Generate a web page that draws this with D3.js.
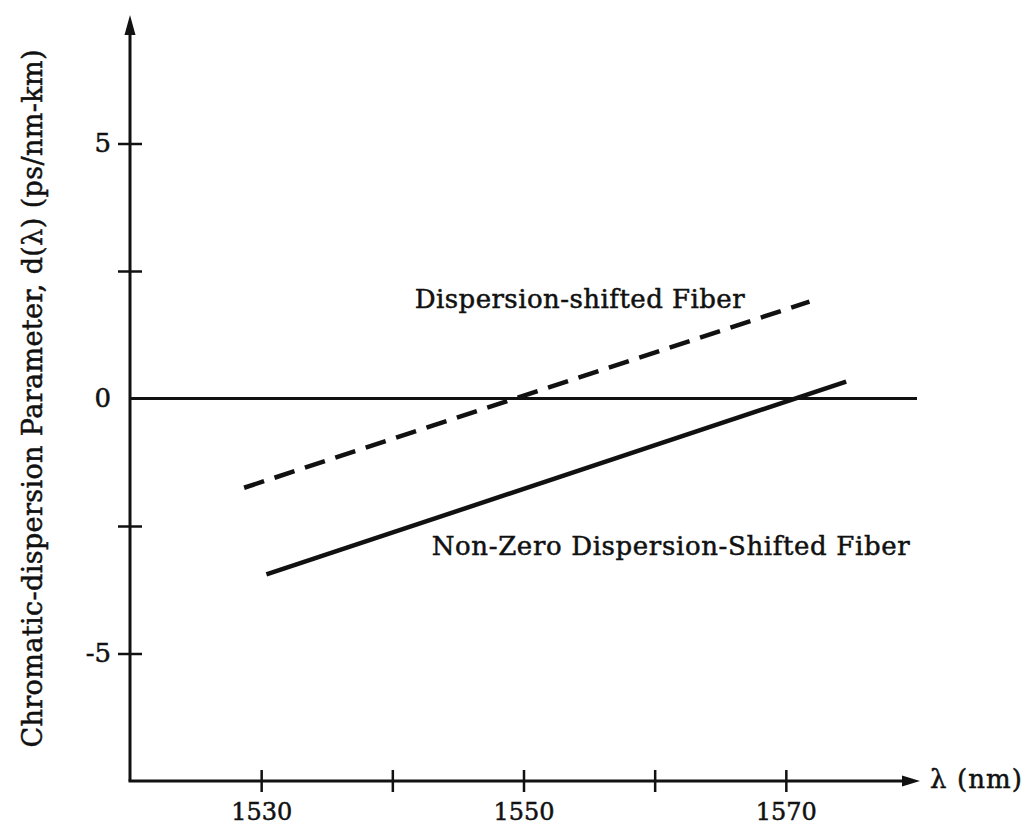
<!DOCTYPE html>
<html>
<head>
<meta charset="utf-8">
<script src="https://cdn.jsdelivr.net/npm/d3@7"></script>
<style>
  body { margin: 0; background: #fff; }
  text { font-family: "DejaVu Serif", "Liberation Serif", serif; fill: #111; stroke: #111; stroke-width: 0.5px; }
</style>
</head>
<body>
<script>
// x ticks (nm) and which of them carry a label
const xTicks = [1530, 1540, 1550, 1560, 1570];
const xLabels = [1530, 1550, 1570];
// y ticks (ps/nm-km)
const yTicks = [-5, -2.5, 2.5, 5];
const yLabels = [-5, 0, 5];

// the two fibres, end points
const dsfLambda = [1528.7, 1571.8];
const dsfD = [-1.75, 1.9];
const nzdsfLambda = [1530.4, 1574.6];
const nzdsfD = [-3.45, 0.33];

// zero dispersion reference line
const zeroLambda = [1520, 1580];

const width = 1028;
const height = 827;

const x = d3.scaleLinear().domain([1520, 1580]).range([130, 917]);
const y = d3.scaleLinear().domain([-7.5, 7.5]).range([781, 16]);

const svg = d3.select("body").append("svg")
  .attr("width", width)
  .attr("height", height);

const line = d3.line()
  .x(function (d) { return x(d[0]); })
  .y(function (d) { return y(d[1]); });

// y axis
const yAxis = svg.append("g")
  .attr("transform", "translate(" + x(1520) + ",0)")
  .call(d3.axisLeft(y)
    .tickValues(yTicks.concat([0]))
    .tickSize(12)
    .tickFormat(function (d) { return yLabels.indexOf(d) >= 0 ? (d < 0 ? "-" + Math.abs(d) : d) : ""; }));
yAxis.select(".domain").remove();
yAxis.selectAll(".tick line")
  .attr("x1", -12).attr("x2", 12)
  .attr("stroke", "#111").attr("stroke-width", 2.5)
  .filter(function (d) { return d === 0; }).remove();
yAxis.selectAll(".tick text")
  .attr("x", -19)
  .attr("font-size", 26)
  .attr("font-family", "DejaVu Serif");

// x axis
const xAxis = svg.append("g")
  .attr("transform", "translate(0," + y(-7.5) + ")")
  .call(d3.axisBottom(x)
    .tickValues(xTicks)
    .tickSize(11)
    .tickFormat(function (d) { return xLabels.indexOf(d) >= 0 ? d : ""; }));
xAxis.select(".domain").remove();
xAxis.selectAll(".tick line")
  .attr("y1", -11).attr("y2", 11)
  .attr("stroke", "#111").attr("stroke-width", 2.5);
xAxis.selectAll(".tick text")
  .attr("y", 39).attr("dy", null)
  .attr("font-size", 24)
  .attr("font-family", "DejaVu Serif");

// axis lines with arrow heads
svg.append("line")
  .attr("x1", x(1520)).attr("y1", y(-7.5))
  .attr("x2", x(1520)).attr("y2", y(7.5) + 10)
  .attr("stroke", "#111").attr("stroke-width", 3);
svg.append("path")
  .attr("d", "M" + x(1520) + "," + (y(7.5) - 1) + " l-5.5,20 l11,0 z")
  .attr("fill", "#111");

svg.append("line")
  .attr("x1", x(1520) - 1.5).attr("y1", y(-7.5))
  .attr("x2", x(1580) - 10).attr("y2", y(-7.5))
  .attr("stroke", "#111").attr("stroke-width", 3);
svg.append("path")
  .attr("d", "M" + (x(1580) + 3) + "," + y(-7.5) + " l-18,-5.5 l0,11 z")
  .attr("fill", "#111");

svg.append("text")
  .attr("x", x(1580) + 13)
  .attr("y", y(-7.5) + 7)
  .attr("font-size", 26)
  .attr("textLength", 92)
  .text("λ (nm)");

// zero line
svg.append("path")
  .attr("d", line(zeroLambda.map(function (l) { return [l, 0]; })))
  .attr("stroke", "#111").attr("stroke-width", 3).attr("fill", "none");

// dispersion-shifted fibre (dashed)
svg.append("path")
  .attr("d", line(dsfLambda.map(function (l, i) { return [l, dsfD[i]]; })))
  .attr("stroke", "#111").attr("stroke-width", 4.5)
  .attr("stroke-dasharray", "21 11")
  .attr("fill", "none");

// non-zero dispersion-shifted fibre (solid)
svg.append("path")
  .attr("d", line(nzdsfLambda.map(function (l, i) { return [l, nzdsfD[i]]; })))
  .attr("stroke", "#111").attr("stroke-width", 4.5)
  .attr("fill", "none");

// labels
svg.append("text")
  .attr("x", x(1541.7)).attr("y", y(1.77))
  .attr("font-size", 26)
  .attr("textLength", 330)
  .text("Dispersion-shifted Fiber");

svg.append("text")
  .attr("x", x(1543.0)).attr("y", y(-3.07))
  .attr("font-size", 26)
  .attr("textLength", 478)
  .text("Non-Zero Dispersion-Shifted Fiber");

// y axis title
svg.append("text")
  .attr("transform", "translate(42," + y(0) + ") rotate(-90)")
  .attr("text-anchor", "middle")
  .attr("font-size", 27)
  .attr("textLength", 698)
  .text("Chromatic-dispersion Parameter, d(λ) (ps/nm-km)");
</script>
</body>
</html>
